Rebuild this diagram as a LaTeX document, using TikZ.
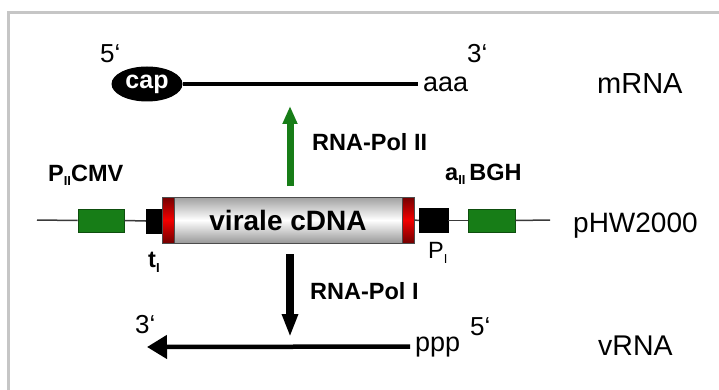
\documentclass[tikz,border=0pt]{standalone}
\usepackage{fontspec}
\setmainfont{Liberation Sans}
\usetikzlibrary{arrows.meta,shapes.geometric}
\definecolor{dnagreen}{HTML}{177D17}
\definecolor{dnagreendark}{HTML}{0E4E0E}
\definecolor{framegray}{HTML}{C6C6C6}
\definecolor{linegray}{HTML}{3A3A3A}
\newcommand{\fsz}[1]{\fontsize{#1}{#1}\selectfont}
\begin{document}
\begin{tikzpicture}[x=1pt,y=-1pt,
  lbl/.style={inner sep=0pt, anchor=base west},
  greenbox/.style={draw=dnagreendark, line width=0.8pt, fill=dnagreen, minimum width=#1, minimum height=23pt, inner sep=0pt},
  blackbox/.style={draw=black, fill=black, minimum width=#1, minimum height=24pt, inner sep=0pt},
  redcap/.style={draw=black!70, line width=0.8pt, minimum width=#1, minimum height=46pt, inner sep=0pt,
    top color=red!45!black, bottom color=red!45!black, middle color=red!95!black},
  backbone/.style={linegray, line width=1.5pt},
  rnaline/.style={black, line width=3.5pt},
]
\useasboundingbox (0,0) rectangle (719,390);
\fill[white] (0,0) rectangle (719,390);
\draw[framegray, line width=3pt] (8,392) -- (8,13) -- (721,13);

% mRNA
\node[ellipse, fill=black, text=white, minimum width=71pt, minimum height=35pt, inner sep=0pt, font=\fsz{25}\bfseries] (cap) at (147,84) {cap};
\node[lbl, inner xsep=5pt] (aaa) at (418,92) {\fsz{27}aaa};
\draw[rnaline] (cap.east) -- (cap.east -| aaa.west);
\node[lbl] (m5) at (100,63) {\fsz{26}5‘};
\node[lbl] (m3) at (467,63) {\fsz{26}3‘};
\node[lbl] (mrna) at (597,94) {\fsz{29}mRNA};

% green arrow
\coordinate (gA) at (290,186);
\coordinate (gB) at (290,106);
\draw[dnagreen, line width=7pt, -{Triangle[width=14pt,length=18pt]}] (gA) -- (gB);
\node[lbl] (pol2) at (312,150) {\fsz{23.5}\bfseries RNA-Pol II};

% plasmid
\coordinate (l0) at (37,220);
\coordinate (l1) at (550,220);
\node[greenbox=46pt] (g1) at (101,220.5) {};
\node[blackbox=15pt] (b1) at (153.5,221) {};
\node[draw=black!70, line width=0.8pt, minimum width=252pt, minimum height=46pt, inner sep=0pt,
  top color=gray!75, bottom color=gray!80, middle color=white, font=\fsz{28}\bfseries] (cdna) at (288,220) {virale cDNA};
\node[redcap=12pt] (rc1) at (168,220) {};
\node[redcap=12pt] (rc2) at (408,220) {};
\node[blackbox=29pt] (b2) at (433.5,220.5) {};
\node[greenbox=47pt] (g2) at (491.5,220.5) {};
\draw[backbone] (l0) -- (g1.west);
\draw[backbone] (g1.east) -- (b1.west);
\draw[backbone] (rc2.east) -- (b2.west);
\draw[backbone] (b2.east) -- (g2.west);
\draw[backbone] (g2.east) -- (l1);

\node[lbl] (pcmv) at (48,182) {\fsz{23.5}\bfseries P\raisebox{-4pt}{\fsz{13}II}CMV};
\node[lbl] (bgh) at (445,180) {\fsz{23.5}\bfseries a\raisebox{-4pt}{\fsz{13}II}\,BGH};
\node[lbl] (ti) at (148,267) {\fsz{23.5}\bfseries t\raisebox{-5pt}{\fsz{13}I}};
\node[lbl] (pi) at (428,258) {\fsz{23.5}P\raisebox{-5pt}{\fsz{13}I}};
\node[lbl] (phw) at (573,232) {\fsz{28}pHW2000};

% black arrow
\coordinate (kA) at (290,254);
\coordinate (kB) at (290,337);
\draw[black, line width=8pt, -{Triangle[width=15pt,length=23pt]}] (kA) -- (kB);
\node[lbl] (pol1) at (310,299) {\fsz{23.5}\bfseries RNA-Pol I};

% vRNA
\node[lbl, inner xsep=5pt] (ppp) at (410,351) {\fsz{27}ppp};
\coordinate (vT) at (147,347);
\draw[black, line width=4.5pt, -{Triangle[width=23pt,length=20pt]}] (ppp.west) -- (vT);
\node[lbl] (v3) at (135,333) {\fsz{26}3‘};
\node[lbl] (v5) at (470,335) {\fsz{26}5‘};
\node[lbl] (vrna) at (598,355) {\fsz{28.5}vRNA};
\end{tikzpicture}
\end{document}
